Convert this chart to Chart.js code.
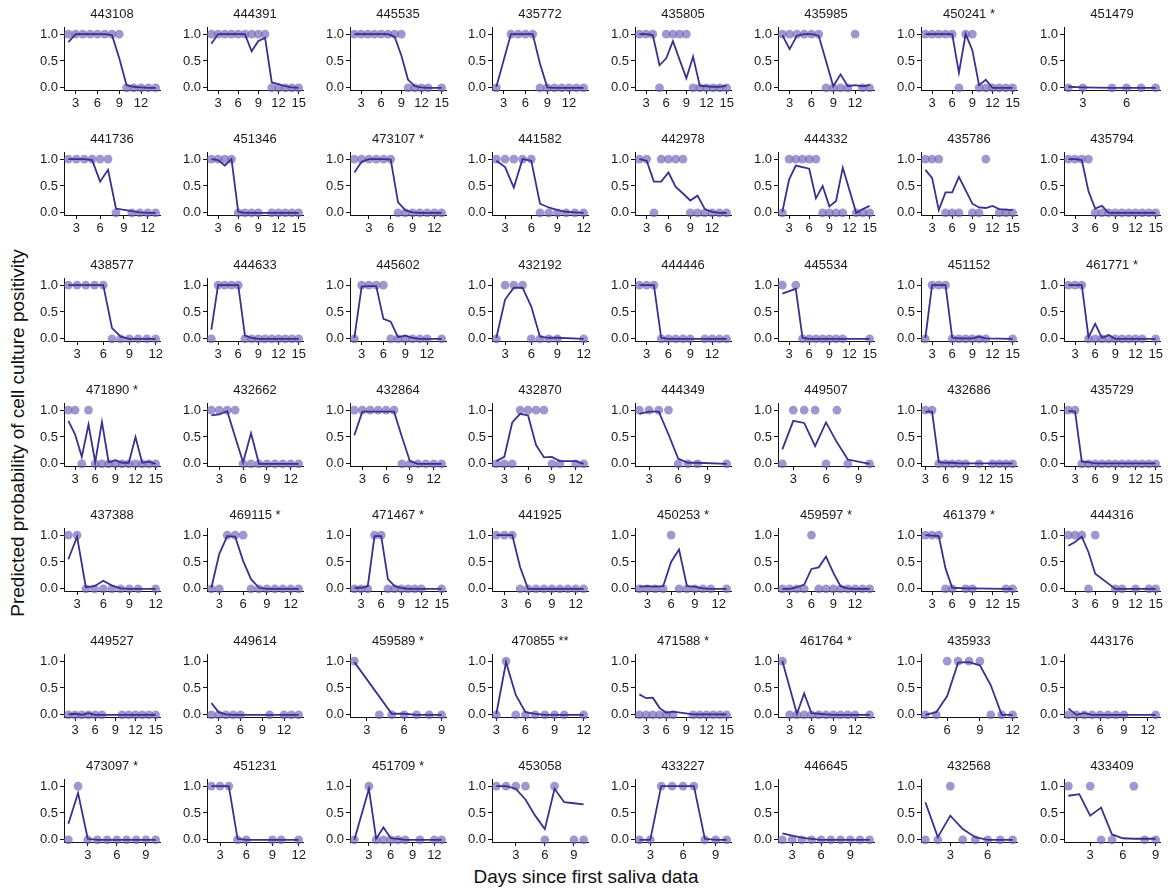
<!DOCTYPE html>
<html>
<head>
<meta charset="utf-8">
<script src="https://cdn.jsdelivr.net/npm/chart.js@4.4.1/dist/chart.umd.min.js"></script>
<style>
  html, body { margin: 0; padding: 0; background: #fff; }
  #wrap { position: relative; width: 1173px; height: 890px; overflow: hidden;
          font-family: "Liberation Sans", Arial, Helvetica, sans-serif; color: #111; }
  #wrap canvas { position: absolute; }
  .axis-title { position: absolute; white-space: nowrap; font-size: 19px; }
  #ytitle { left: 18px; top: 433px; transform: translate(-50%, -50%) rotate(-90deg); }
  #xtitle { left: 586px; top: 877px; transform: translate(-50%, -50%); }
</style>
</head>
<body>
<div id="wrap">
  <div class="axis-title" id="ytitle">Predicted probability of cell culture positivity</div>
  <div class="axis-title" id="xtitle">Days since first saliva data</div>
</div>
<script>
// Participant IDs shown above each panel (row by row)
const panelTitles = [
  '443108','444391','445535','435772','435805','435985','450241 *','451479',
  '441736','451346','473107 *','441582','442978','444332','435786','435794',
  '438577','444633','445602','432192','444446','445534','451152','461771 *',
  '471890 *','432662','432864','432870','444349','449507','432686','435729',
  '437388','469115 *','471467 *','441925','450253 *','459597 *','461379 *','444316',
  '449527','449614','459589 *','470855 **','471588 *','461764 *','435933','443176',
  '473097 *','451231','451709 *','453058','433227','446645','432568','433409'
];

// Sampling days for each participant
const panelDays = [
  [2,3,4,5,6,7,8,9,10,11,12,13,14],
  [2,3,4,5,6,7,8,9,10,11,12,13,14,15],
  [2,3,4,5,6,7,8,9,10,11,12,13,15],
  [2,4,5,6,7,8,9,10,11,12,13,14],
  [2,3,4,5,6,7,8,9,10,11,12,13,14,15],
  [2,3,4,5,6,7,8,9,10,11,12,13,14],
  [2,3,4,5,6,7,8,9,10,11,12,13,14,15],
  [2,3,5,6,7,8],
  [2,3,4,5,6,7,8,10,11,12,13],
  [2,3,4,5,6,7,8,9,11,12,13,14,15],
  [1,2,3,4,5,6,7,8,9,10,11,12,13],
  [2,3,4,5,6,7,8,9,10,11,12],
  [2,3,4,5,6,7,8,9,10,11,12,13,14],
  [2,3,4,5,6,7,8,9,10,11,13,14,15],
  [2,3,4,5,6,7,9,10,11,12,13,14,15],
  [2,3,4,5,6,7,8,9,10,11,12,13,14,15],
  [2,3,4,5,6,7,8,9,10,11,12],
  [2,3,4,5,6,7,8,9,10,11,12,13,14,15],
  [2,3,4,5,6,7,8,9,10,11,12,14],
  [2,3,4,5,6,7,8,9,12],
  [2,3,4,5,6,7,8,9,11,12,13,14],
  [2,4,5,6,7,8,9,10,11,15],
  [2,3,4,5,6,7,8,9,10,11,15],
  [2,3,4,5,6,7,8,9,10,11,12,13,15],
  [2,3,4,5,6,7,8,9,10,11,12,13,14,15],
  [2,3,4,5,6,7,8,9,10,11,12,13],
  [2,3,4,5,6,7,8,9,10,11,12,13],
  [2,3,4,5,6,7,8,9,10,11,12,13],
  [2,3,4,5,6,7,8,11],
  [2,3,4,5,6,7,8,10],
  [3,4,5,6,7,8,9,11,13,14,15,16],
  [2,3,4,5,6,7,8,9,10,11,12,13,14,15],
  [2,3,4,5,6,7,8,9,10,12],
  [2,3,4,5,6,7,8,9,10,11,12,13],
  [2,3,4,5,6,7,8,9,10,11,12,15],
  [2,3,4,5,6,7,8,9,10,11,12,13],
  [2,3,4,5,6,7,8,9,10,11,13],
  [2,3,4,5,6,7,8,9,10,11,12,13,14],
  [2,3,4,5,6,8,9,14,15],
  [2,3,4,5,6,9,10,12,14,15],
  [2,3,4,5,6,7,10,11,12,13,14,15],
  [2,3,4,5,6,10,12,13,14],
  [2,4,5,6,7,8,9],
  [3,4,5,6,7,8,9,10,12],
  [2,3,4,5,6,7,10,11,12,13,14,15],
  [2,3,4,5,6,7,8,9,10,11,12,14],
  [4,5,6,7,8,9,10,11,12],
  [2,3,4,5,6,7,8,9,13],
  [1,2,3,4,5,6,7,8,9,10],
  [2,3,4,5,6,9,10,12],
  [1,3,4,5,6,7,8,10,12,13],
  [1,2,3,4,5,6,7,8,9,10],
  [2,3,4,5,6,7,8,9,10],
  [2,3,4,5,6,7,8,9,10,11],
  [1,2,3,4,5,6,7,8],
  [1,2,3,4,5,6,7,8,9]
];

// Cell culture result on each day (1 = positive, 0 = negative, null = not cultured)
const cultureObserved = [
  [1,1,1,1,1,1,1,1,0,0,0,0,0],
  [1,1,1,1,1,1,1,1,1,0,0,0,0,0],
  [1,1,1,1,1,1,1,1,0,0,0,0,0],
  [0,1,1,1,1,0,0,0,0,0,0,0],
  [1,1,1,0,1,1,1,1,0,0,0,0,0,0],
  [1,1,1,1,1,1,0,0,0,0,1,0,0],
  [1,1,1,1,1,0,1,1,0,0,0,0,0,0],
  [0,0,0,0,0,0],
  [1,1,1,1,1,1,0,0,0,0,0],
  [1,1,1,1,0,0,0,0,0,0,0,0,0],
  [1,1,1,1,1,1,0,0,0,0,0,0,0],
  [1,1,1,1,1,0,0,0,0,0,0],
  [1,1,0,1,1,1,1,0,0,0,0,0,0],
  [0,1,1,1,1,1,0,0,0,0,0,0,0],
  [1,1,1,0,0,0,0,0,1,null,0,0,0],
  [1,1,1,1,0,0,0,0,0,0,0,0,0,0],
  [1,1,1,1,1,0,0,0,0,0,0],
  [0,1,1,1,1,0,0,0,0,0,0,0,0,0],
  [0,1,1,1,1,0,0,0,0,0,0,0],
  [0,1,1,1,0,0,0,0,0],
  [1,1,1,0,0,0,0,0,0,0,0,0],
  [1,1,0,0,0,0,0,0,0,0],
  [0,1,1,1,0,0,0,0,0,0,0],
  [1,1,1,0,0,0,0,0,0,0,0,0,0],
  [1,1,0,1,0,0,0,0,0,0,0,0,0,0],
  [1,1,1,1,0,0,0,0,0,0,0,0],
  [1,1,1,1,1,1,0,0,0,0,0,0],
  [0,0,0,1,1,1,1,0,0,null,0,0],
  [1,1,1,1,0,0,0,0],
  [0,1,1,1,0,1,0,0],
  [1,1,0,0,0,0,0,0,0,0,0,0],
  [1,1,0,0,0,0,0,0,0,0,0,0,0,0],
  [1,1,0,0,0,0,0,0,0,0],
  [0,0,1,1,1,0,0,0,0,0,0,0],
  [0,0,0,1,1,0,0,0,0,0,0,0],
  [1,1,1,0,0,0,0,0,0,0,0,0],
  [0,0,0,0,1,0,0,0,0,0,0],
  [0,0,0,0,1,0,0,0,0,0,0,0,0],
  [1,1,1,0,0,0,0,0,0],
  [1,1,1,0,1,0,0,0,0,0],
  [0,0,0,0,0,0,0,0,0,0,0,0],
  [0,0,0,0,0,0,0,0,0],
  [1,0,0,0,0,0,0],
  [0,1,0,0,0,0,0,0,0],
  [0,0,0,0,0,0,0,0,0,0,0,0],
  [1,0,0,0,0,0,0,0,0,0,0,0],
  [0,0,1,1,1,1,0,0,0],
  [0,0,0,0,0,0,0,0,0],
  [0,1,0,0,0,0,0,0,0,0],
  [1,1,1,0,0,0,0,0],
  [0,1,0,0,0,0,0,0,0,0],
  [1,1,1,1,null,0,1,null,0,0],
  [0,0,1,1,1,1,0,0,0],
  [0,0,0,0,0,0,0,0,0,0],
  [0,0,1,0,0,0,0,0],
  [1,null,1,0,0,null,1,0,0]
];

// Model-predicted probability of a positive culture on each day (null = no prediction)
const predictedProb = [
  [0.85,1,1,1,1,1,0.98,0.55,0.05,0.02,0.01,0,0],
  [0.82,1,1,1,1,1,0.68,0.87,0.93,0.1,0.07,0.03,0.01,0],
  [1,1,1,1,1,1,0.95,0.6,0.15,0.03,0.01,0,0],
  [0.02,1,1,1,1,0.45,0.01,0,0,0,0,0],
  [1,1,0.98,0.42,0.55,0.87,0.52,0.18,0.58,0.04,0.03,0.02,0.02,0.04],
  [0.98,0.72,0.97,1,1,0.97,0.5,0.03,0.25,0.03,0.05,0.03,0.05],
  [1,1,1,1,1,0.28,1,0.7,0.05,0.15,0,0,0,0],
  [0.02,0.01,0,0,0,0],
  [1,1,1,0.98,0.58,0.8,0.08,0.03,0.01,0,0],
  [1,0.98,0.88,1,0.02,0,0,0,0,0,0,0,0],
  [0.75,0.95,1,1,1,0.99,0.2,0.05,0.01,0,0,0,0],
  [0.97,0.85,0.47,1,0.97,0.17,0.1,0.05,0.02,0.01,0],
  [1,0.97,0.58,0.58,0.75,0.48,0.36,0.23,0.32,0.07,0.02,0,0],
  [0.02,0.62,0.88,0.85,0.82,0.27,0.5,0.12,0.22,0.84,0,0.07,0.13],
  [0.8,0.65,0.05,0.38,0.38,0.67,0.17,0.1,0.09,0.13,0.07,0.06,0.05],
  [1,1,0.98,0.4,0.08,0.13,0,0,0,0,0,0,0,0],
  [1,1,1,1,1,0.2,0.04,0,0,0,0],
  [0.17,1,1,1,1,0.06,0.02,0,0,0,0,0,0,0],
  [0.02,0.97,0.98,0.98,0.37,0.32,0.03,0.06,0.02,0,0,0],
  [0.02,0.73,0.95,0.95,0.6,0.04,0.02,0.02,0],
  [1,1,1,0.02,0,0,0,0,0,0,0,0],
  [0.84,0.93,0.02,0,0,0,0,0,0,0],
  [0.02,1,1,1,0.02,0.01,0.01,0.01,0.04,0.01,0],
  [1,1,1,0.03,0.28,0.02,0.07,0,0,0,0,0,0],
  [0.8,0.55,0.13,0.73,0.03,0.78,0.03,0.07,0.02,0.02,0.5,0.02,0.04,0],
  [0.9,0.92,0.98,0.5,0.03,0.57,0,0,0,0,0,0],
  [0.53,0.97,0.97,0.97,0.97,0.97,0.5,0.05,0,0,0,0],
  [0.05,0.13,0.77,0.93,0.9,0.35,0.12,0.13,0.05,0.05,0.05,0],
  [0.93,0.97,0.97,0.55,0.1,0.02,0.02,0],
  [0.27,0.8,0.76,0.33,0.77,0.4,0.08,0],
  [0.97,0.97,0.03,0.02,0.02,0.01,0.01,0.01,0.01,0.01,0.01,0.01],
  [0.98,0.97,0.04,0.03,0.01,0.01,0.01,0.01,0.01,0.01,0.01,0.01,0.01,0.01],
  [0.55,0.97,0.03,0.05,0.15,0.06,0.01,0,0,0],
  [0.02,0.65,0.98,0.97,0.52,0.18,0.02,0,0,0,0,0],
  [0.02,0.02,0.05,0.98,0.98,0.18,0.05,0.02,0,0,0,0],
  [1,1,1,0.4,0,0,0,0,0,0,0,0],
  [0.04,0.05,0.04,0.05,0.5,0.73,0.05,0.04,0.01,0,0],
  [0,0,0.03,0.08,0.37,0.4,0.6,0.3,0.05,0.01,0,0,0],
  [1,0.99,0.98,0.38,0.02,0.01,0.01,0,0],
  [0.8,0.87,0.97,0.68,0.28,0,0,0,0,0],
  [0.01,0.02,0,0.03,0,0,0,0,0,0,0,0],
  [0.22,0.05,0.01,0,0,0,0,0,0],
  [0.98,null,0.02,0.02,0,0,0],
  [0.02,0.98,0.37,0.05,0.02,0,0,0,0],
  [0.38,0.31,0.32,0.13,0.04,0.06,0.01,0.01,0.01,0.01,0.01,0.01],
  [1,null,0.02,0.4,0.03,0.02,0.01,0,0,0,0,0],
  [0,0.05,0.35,0.97,0.98,0.92,0.55,0,0],
  [0.12,0,0.03,0,0,0,0,0,0],
  [0.3,0.87,0.02,0,0,0,0,0,0,0],
  [1,1,1,0.02,0,0,0,0],
  [0,0.95,0.02,0.23,0.03,0.02,0,0,0,0],
  [1,1,0.95,0.75,0.45,0.2,0.95,0.7,0.68,0.66],
  [0,0,1,1,1,1,0.02,0,0],
  [0.12,0.08,0.04,0.02,0,0,0,0,0,0],
  [0.7,0.05,0.45,0.2,0.05,0,0,0],
  [0.82,0.85,0.45,0.6,0.1,0.03,0.02,0.02,0.02]
];

const yTickValues = [0, 0.5, 1];
const xTickStep = 3;

// Grid geometry of the small multiples
const NCOL = 8;
const COL_PITCH = 142.8, ROW_PITCH = 125.3;
const FIRST_AXIS_X = 64;
const Y_AXIS_W = 30, PLOT_W = 96, RIGHT_PAD = 8;
const CANVAS_H = 125, X_AXIS_H = 35;

const LINE_COLOR = '#3d2f8f';
const POINT_COLOR = 'rgba(110, 98, 180, 0.66)';
const FONT = '"Liberation Sans", Arial, Helvetica, sans-serif';
const TEXT_COLOR = '#1a1a1a';

const wrap = document.getElementById('wrap');

panelTitles.forEach((title, i) => {
  const col = i % NCOL, row = Math.floor(i / NCOL);
  const days = panelDays[i];
  const obs = cultureObserved[i];
  const pred = predictedProb[i];

  const canvas = document.createElement('canvas');
  const w = Y_AXIS_W + PLOT_W + RIGHT_PAD;
  canvas.width = w; canvas.height = CANVAS_H;
  canvas.style.left = (FIRST_AXIS_X + col * COL_PITCH - Y_AXIS_W) + 'px';
  canvas.style.top = (row * ROW_PITCH) + 'px';
  canvas.style.width = w + 'px'; canvas.style.height = CANVAS_H + 'px';
  wrap.appendChild(canvas);

  const dMin = Math.min(...days), dMax = Math.max(...days);
  const pad = 0.05 * (dMax - dMin);

  const lineData = [], pointData = [];
  days.forEach((d, k) => {
    if (pred[k] !== null && pred[k] !== undefined) lineData.push({x: d, y: pred[k]});
    if (obs[k] !== null && obs[k] !== undefined) pointData.push({x: d, y: obs[k]});
  });

  new Chart(canvas, {
    type: 'line',
    data: {
      datasets: [
        { type: 'line', data: lineData, borderColor: LINE_COLOR, borderWidth: 1.8,
          pointRadius: 0, tension: 0, fill: false, clip: false },
        { type: 'scatter', data: pointData, backgroundColor: POINT_COLOR,
          borderWidth: 0, pointRadius: 4.4, pointHoverRadius: 4.4, clip: false }
      ]
    },
    options: {
      responsive: false, animation: false, devicePixelRatio: 1,
      events: [],
      layout: { padding: { left: 0, right: RIGHT_PAD, top: 0, bottom: 0 } },
      plugins: {
        legend: { display: false },
        tooltip: { enabled: false },
        title: { display: true, text: title, fullSize: false, color: TEXT_COLOR,
                 font: { family: FONT, size: 13, weight: 'normal', lineHeight: 1.2 },
                 padding: { top: 7, bottom: 5 } }
      },
      scales: {
        x: {
          type: 'linear', min: dMin - pad, max: dMax + pad,
          afterFit: s => { s.height = X_AXIS_H; },
          afterBuildTicks: s => {
            const t = [];
            for (let v = Math.ceil(s.min / xTickStep) * xTickStep; v <= s.max; v += xTickStep) t.push({value: v});
            s.ticks = t;
          },
          grid: { display: true, drawOnChartArea: false, drawTicks: true, tickLength: 4,
                  tickColor: '#111', color: '#111' },
          border: { display: true, color: '#111', width: 1 },
          ticks: { color: TEXT_COLOR, font: { family: FONT, size: 13 }, padding: 2,
                   maxRotation: 0, autoSkip: false, callback: v => String(v) }
        },
        y: {
          type: 'linear', min: -0.04, max: 1.12,
          afterFit: s => { s.width = Y_AXIS_W; },
          afterBuildTicks: s => { s.ticks = yTickValues.map(v => ({value: v})); },
          grid: { display: true, drawOnChartArea: false, drawTicks: true, tickLength: 4,
                  tickColor: '#111', color: '#111' },
          border: { display: true, color: '#111', width: 1 },
          ticks: { color: TEXT_COLOR, font: { family: FONT, size: 13 }, padding: 2,
                   autoSkip: false, callback: v => v.toFixed(1) }
        }
      }
    }
  });
});
</script>
</body>
</html>
